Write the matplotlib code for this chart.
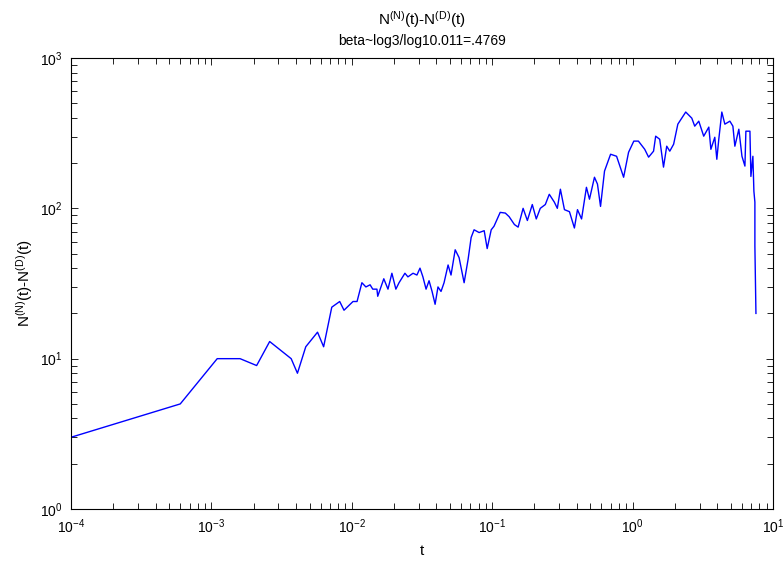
import numpy as np
import matplotlib
matplotlib.use("Agg")
import matplotlib.pyplot as plt
from matplotlib.ticker import LogLocator, NullFormatter

plt.rcParams['font.family'] = ['Liberation Sans', 'DejaVu Sans']
plt.rcParams['mathtext.fontset'] = 'custom'
plt.rcParams['mathtext.rm'] = 'Liberation Sans'
plt.rcParams['mathtext.it'] = 'Liberation Sans'

# time t and count difference N^(N)(t)-N^(D)(t)
t = [1.0e-4, 6.0e-4, 1.1e-3, 1.6e-3, 2.1e-3, 2.6e-3, 3.7e-3, 4.1e-3, 4.7e-3, 5.7e-3,
     6.3e-3, 7.2e-3, 8.2e-3, 8.8e-3, 0.0102, 0.0109, 0.0118, 0.0126, 0.0135, 0.0141,
     0.0151, 0.0153, 0.0169, 0.0181, 0.0193, 0.0206, 0.0217, 0.0239, 0.0251, 0.0273,
     0.0291, 0.0306, 0.0321, 0.0338, 0.0355, 0.0373, 0.0392, 0.0411, 0.0432, 0.0454,
     0.0485, 0.0509, 0.0545, 0.0581, 0.0631, 0.0674, 0.0708, 0.0743, 0.0807, 0.0877,
     0.0921, 0.0984, 0.103, 0.114, 0.124, 0.132, 0.144, 0.153, 0.166, 0.178,
     0.193, 0.206, 0.220, 0.239, 0.255, 0.277, 0.291, 0.306, 0.327, 0.355,
     0.385, 0.405, 0.433, 0.469, 0.493, 0.535, 0.562, 0.591, 0.631, 0.697,
     0.769, 0.863, 0.936, 1.02, 1.10, 1.22, 1.30, 1.41, 1.46, 1.56,
     1.66, 1.75, 1.84, 1.96, 2.10, 2.39, 2.64, 2.77, 2.96, 3.21,
     3.49, 3.61, 3.85, 3.98, 4.11, 4.32, 4.54, 4.93, 5.18, 5.35,
     5.71, 6.01, 6.31, 6.41, 6.85, 6.96, 7.19, 7.31, 7.43, 7.43,
     7.56]
n_diff = [3, 5, 10, 10, 9, 13, 10, 8, 12, 15,
          12, 22, 24, 21, 24, 24, 32, 30, 31, 29,
          29, 26, 34, 29, 37, 29, 32, 37, 35, 37,
          36, 40, 35, 29, 33, 28, 23, 30, 28, 32,
          42, 36, 53, 47, 32, 46, 64, 72, 69, 71,
          54, 72, 76, 94, 93, 88, 78, 75, 100, 83,
          106, 85, 100, 106, 124, 110, 100, 134, 98, 95,
          74, 98, 85, 138, 115, 161, 145, 103, 177, 229,
          222, 161, 236, 280, 280, 247, 219, 240, 302, 288,
          188, 259, 240, 267, 363, 437, 398, 352, 380, 302,
          347, 247, 297, 212, 288, 437, 363, 380, 352, 259,
          336, 222, 191, 326, 326, 163, 222, 130, 110, 56,
          20]

title_top = r'N$^{\mathrm{(N)}}$(t)-N$^{\mathrm{(D)}}$(t)'
title_sub = 'beta~log3/log10.011=.4769'

fig = plt.figure(figsize=(7.83, 5.63), dpi=100)
ax = fig.add_axes([71 / 783, 54 / 563, 702 / 783, 451 / 563])

ax.loglog(t, n_diff, color='b', lw=1.0)
ax.set_xlim(1e-4, 1e1)
ax.set_ylim(1e0, 1e3)

ax.xaxis.set_major_locator(LogLocator(base=10, numticks=10))
ax.xaxis.set_minor_locator(LogLocator(base=10, subs=np.arange(2, 10), numticks=20))
ax.yaxis.set_minor_locator(LogLocator(base=10, subs=np.arange(2, 10), numticks=20))
ax.xaxis.set_minor_formatter(NullFormatter())
ax.yaxis.set_minor_formatter(NullFormatter())
ax.tick_params(which='both', direction='in', top=True, right=True,
               width=0.6, labelsize=10)
ax.tick_params(which='major', length=5, pad=6)
ax.tick_params(which='minor', length=4)
for s in ax.spines.values():
    s.set_linewidth(0.8)

ax.set_xlabel('t', fontsize=11, labelpad=6)
ax.set_ylabel(title_top, fontsize=11, labelpad=4)

fig.text(0.539, 1 - 20 / 563, title_top, ha='center', va='center', fontsize=11)
fig.text(0.539, 1 - 41 / 563, title_sub, ha='center', va='center', fontsize=10)

fig.savefig('out.png', dpi=100)
